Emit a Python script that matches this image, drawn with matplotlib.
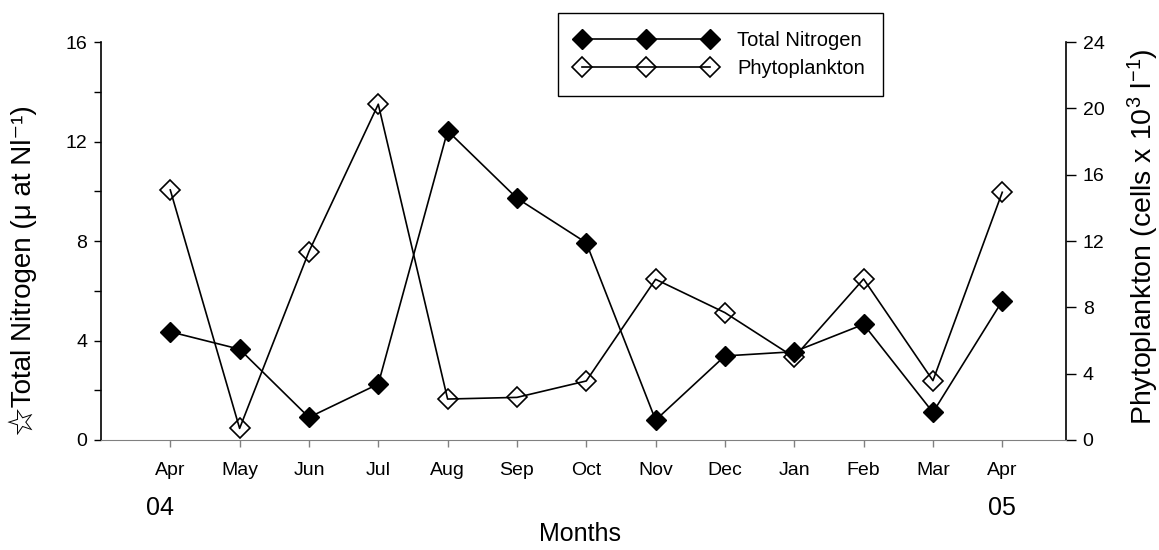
import matplotlib.pyplot as plt
import matplotlib.transforms as mtransforms
from matplotlib.ticker import MultipleLocator

plt.rcParams['font.family'] = ['Liberation Sans', 'Noto Sans CJK JP', 'DejaVu Sans']
plt.rcParams['mathtext.fontset'] = 'custom'
plt.rcParams['mathtext.rm'] = 'Liberation Sans'
plt.rcParams['mathtext.it'] = 'Liberation Sans'

# months Apr 2004 - Apr 2005
months = ['Apr', 'May', 'Jun', 'Jul', 'Aug', 'Sep', 'Oct', 'Nov', 'Dec', 'Jan', 'Feb', 'Mar', 'Apr']
nitrogen = [4.35, 3.65, 0.91, 2.25, 12.43, 9.72, 7.93, 0.80, 3.38, 3.55, 4.65, 1.11, 5.59]  # µ at N/l
phyto = [15.08, 0.70, 11.36, 20.25, 2.47, 2.57, 3.56, 9.69, 7.68, 4.99, 9.71, 3.58, 14.94]  # cells x 10^3 /l
years = ['04', '05']

x = list(range(len(months)))

fig = plt.figure(figsize=(11.59, 5.5), dpi=100)
ax = fig.add_axes([0.0871, 0.2, 0.8327, 0.7236])
ax2 = ax.twinx()

# nitrogen drawn on top of the phytoplankton series
ax.set_zorder(ax2.get_zorder() + 1)
ax.patch.set_visible(False)

ln2, = ax2.plot(x, phyto, color='black', lw=1.2, marker='D', ms=10,
                mfc='none', mec='black', mew=1.2, label='Phytoplankton')
ln1, = ax.plot(x, nitrogen, color='black', lw=1.2, marker='D', ms=10,
               mfc='black', mec='black', mew=1.0, label='Total Nitrogen')

ax.set_xlim(-1.0, 12.92)
ax.set_ylim(0, 16)
ax2.set_ylim(0, 24)
ax.set_xticks(x)
ax.set_xticklabels(months)
ax.yaxis.set_major_locator(MultipleLocator(4))
ax.yaxis.set_minor_locator(MultipleLocator(2))
ax2.yaxis.set_major_locator(MultipleLocator(4))

ax.tick_params(axis='y', which='both', length=5, width=1, pad=5, labelsize=14)
ax.tick_params(axis='x', length=5, width=1, color='#808080', pad=11, labelsize=14)
ax2.tick_params(axis='y', length=7, width=1, pad=5, labelsize=14)

for s in ['top', 'right']:
    ax.spines[s].set_visible(False)
for s in ['top', 'left', 'bottom']:
    ax2.spines[s].set_visible(False)
ax.spines['bottom'].set_color('#808080')
ax.spines['left'].set_linewidth(1.2)
ax2.spines['right'].set_linewidth(1.2)

ax.set_ylabel('\u2606Total Nitrogen (\u03bc at Nl\u207b\u00b9)', fontsize=20)
ax.yaxis.set_label_coords(-0.081, 0.428)
ax.yaxis.label.set_va('center')
ax2.set_ylabel('Phytoplankton (cells x 10$^{3}$ l$^{-1}$)', fontsize=20.5)
ax2.yaxis.set_label_coords(1.080, 0.51)
ax2.yaxis.label.set_va('center')
ax.set_xlabel('Months', fontsize=18)
ax.xaxis.set_label_coords(0.496, -0.236)
ax.xaxis.label.set_va('center')

# year labels under first and last April
trans = mtransforms.blended_transform_factory(ax.transData, ax.transAxes)
ax.text(x[0] - 0.15, -0.171, years[0], transform=trans, ha='center', va='center', fontsize=18)
ax.text(x[-1], -0.171, years[1], transform=trans, ha='center', va='center', fontsize=18)

leg = ax.legend([ln1, ln2], ['Total Nitrogen', 'Phytoplankton'], loc='upper right',
                bbox_to_anchor=(883 / 1159, 1 - 13 / 550), bbox_transform=fig.transFigure,
                borderaxespad=0, numpoints=3, handlelength=6.95, handletextpad=1.05,
                fontsize=14.5, fancybox=False, edgecolor='black', framealpha=1,
                labelspacing=0.42, borderpad=0.9, markerscale=1.05)
leg.get_frame().set_linewidth(1.0)

fig.savefig('out.png', dpi=100)
